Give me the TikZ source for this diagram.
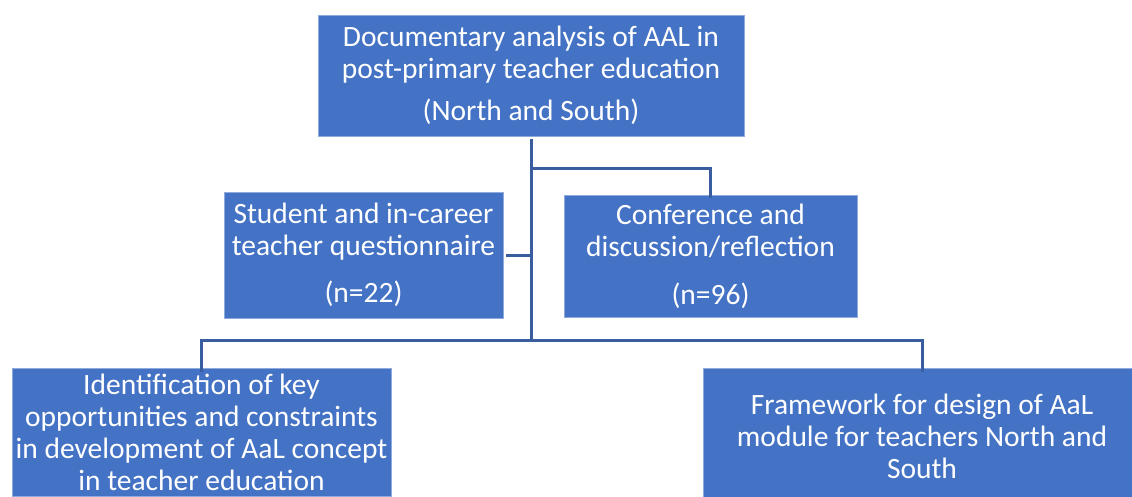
\documentclass[tikz,border=0pt]{standalone}
\usepackage{fontspec}
\setmainfont{Carlito}
\definecolor{boxblue}{HTML}{4472C4}
\definecolor{boxedge}{HTML}{8FAADC}
\definecolor{linkblue}{HTML}{3A5DA0}

\begin{document}
\begin{tikzpicture}[x = 1pt, y = -1pt, box/.style = {draw = boxedge, line width = 0.8pt, fill = boxblue, text = white, inner sep = 0pt, align = center, font = \fontsize{29.5}{32}\selectfont}, link/.style = {draw = linkblue, line width = 3pt}]
					\clip (0,0) rectangle (1132,496);
					\node[box, minimum width = 426pt, minimum height = 121pt] (doc) at (531,75.5) {Documentary analysis of AAL in\\post-primary teacher education\\[10pt](North and South)};
					\node[box, minimum width = 279pt, minimum height = 126pt] (student) at (363.5,255) {Student and in-career\\teacher questionnaire\\[15pt](n=22)};
					\node[box, minimum width = 293pt, minimum height = 122pt] (conf) at (710.5,256) {Conference and\\discussion/reflection\\[16pt](n=96)};
					\node[box, minimum width = 379pt, minimum height = 128pt] (ident) at (201.5,432) {Identification of key\\opportunities and constraints\\in development of AaL concept\\in teacher education};
					\node[box, minimum width = 438pt, minimum height = 136pt] (frame) at (922,436) {Framework for design of AaL\\module for teachers North and\\South};
					\coordinate (fork) at (531,168);
					\coordinate (hub) at (531,340);
					\draw[link] ([yshift = -3pt]doc.south) -- (hub);
					\draw[link] (fork) -| ([yshift = -3pt]conf.north);
					\draw[link] ([xshift = 3pt]student.east) -- (student.east -| hub);
					\draw[link] ([yshift = -4pt]ident.north) |- (hub) -| ([yshift = -4pt]frame.north);
				\end{tikzpicture}
\end{document}
